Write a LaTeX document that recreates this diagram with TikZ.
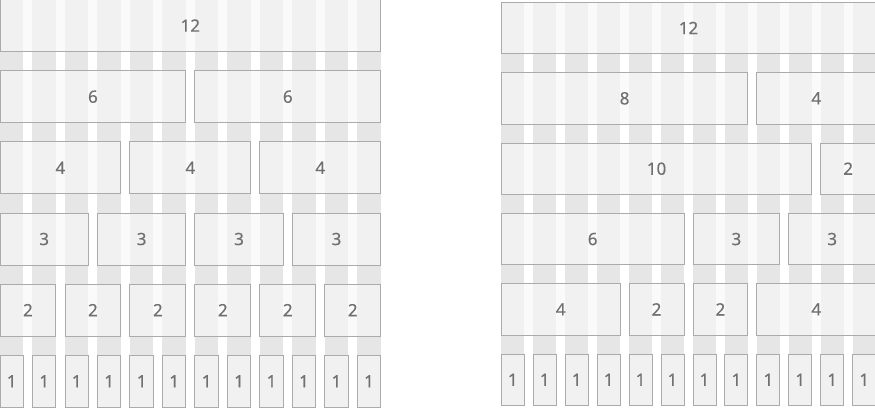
\documentclass[tikz,border=0pt]{standalone}
\usepackage{fontspec}
\setmainfont{Noto Sans}
\newfontfamily\numfont{Noto Sans}[FakeBold=0.35]
\definecolor{stripe}{HTML}{E6E6E6}
\definecolor{boxfill}{HTML}{F7F7F7}
\definecolor{boxline}{HTML}{ABABAB}
\definecolor{numtext}{HTML}{707070}
\tikzset{
  gridbox/.style={draw=boxline, line width=0.9pt, fill=boxfill, fill opacity=0.65, text opacity=1,
    text=numtext, inner sep=0pt, outer sep=0pt, anchor=north west, font=\numfont\fontsize{17}{19}\selectfont},
  stripefill/.style={fill=stripe, draw=none}
}
% grid geometry set by \gsetup{ox}{oy}{sx}{sy}
\newcommand\gsetup[4]{\def\gox{#1}\def\goy{#2}\def\gsx{#3}\def\gsy{#4}}
% #1 name, #2 row, #3 col, #4 span, #5 label
\newcommand\gbox[5]{%
  \pgfmathsetmacro\gxa{\gox+#3*32.48*\gsx}%
  \pgfmathsetmacro\gwd{(#4*32.48-9.08)*\gsx}%
  \pgfmathsetmacro\gya{\goy+#2*71.15*\gsy}%
  \pgfmathsetmacro\ght{52*\gsy}%
  \node[gridbox, minimum width=\gwd pt, minimum height=\ght pt] (#1) at (\gxa pt,-\gya pt) {#5};%
}
\newcommand\gstripes{%
  \foreach \i in {0,...,11}{%
    \pgfmathsetmacro\sxa{\gox+\i*32.48*\gsx}%
    \pgfmathsetmacro\sxb{\gox+(\i*32.48+23.4)*\gsx}%
    \pgfmathsetmacro\syb{\goy+(5*71.15+52)*\gsy}%
    \fill[stripefill] (\sxa pt,-\goy pt) rectangle (\sxb pt,-\syb pt);
  }%
}
\begin{document}
\begin{tikzpicture}
\useasboundingbox (0,0) rectangle (875pt,-409pt);
\clip (0,0) rectangle (875pt,-409pt);
% ---------- left grid ----------
\gsetup{0}{-0.45}{1}{1}
\gstripes
\gbox{La}{0}{0}{12}{12}
\gbox{Lba}{1}{0}{6}{6}
\gbox{Lbb}{1}{6}{6}{6}
\foreach \c [count=\k] in {0,4,8}{\gbox{Lc\k}{2}{\c}{4}{4}}
\foreach \c [count=\k] in {0,3,6,9}{\gbox{Ld\k}{3}{\c}{3}{3}}
\foreach \c [count=\k] in {0,2,4,6,8,10}{\gbox{Le\k}{4}{\c}{2}{2}}
\foreach \c [count=\k] in {0,...,11}{\gbox{Lf\k}{5}{\c}{1}{1}}
% ---------- right grid ----------
\gsetup{501.3}{2.3}{0.9834}{0.9886}
\gstripes
\gbox{Ra}{0}{0}{12}{12}
\gbox{Rba}{1}{0}{8}{8}
\gbox{Rbb}{1}{8}{4}{4}
\gbox{Rca}{2}{0}{10}{10}
\gbox{Rcb}{2}{10}{2}{2}
\gbox{Rda}{3}{0}{6}{6}
\gbox{Rdb}{3}{6}{3}{3}
\gbox{Rdc}{3}{9}{3}{3}
\gbox{Rea}{4}{0}{4}{4}
\gbox{Reb}{4}{4}{2}{2}
\gbox{Rec}{4}{6}{2}{2}
\gbox{Red}{4}{8}{4}{4}
\foreach \c [count=\k] in {0,...,11}{\gbox{Rf\k}{5}{\c}{1}{1}}
\end{tikzpicture}
\end{document}
